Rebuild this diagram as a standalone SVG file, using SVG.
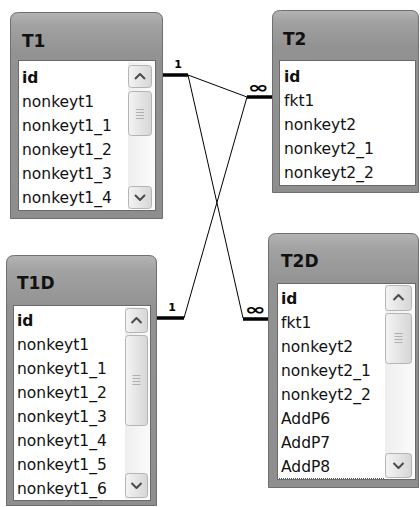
<svg xmlns="http://www.w3.org/2000/svg" width="420" height="507" viewBox="0 0 420 507">
  <defs>
    <linearGradient id="frameGrad" x1="0" y1="0" x2="0" y2="1" gradientUnits="objectBoundingBox">
      <stop offset="0" stop-color="#b4b4b4"/>
      <stop offset="0.06" stop-color="#a2a2a2"/>
      <stop offset="0.2" stop-color="#929292"/>
      <stop offset="1" stop-color="#8e8e8e"/>
    </linearGradient>
    <linearGradient id="btnGrad" x1="0" y1="0" x2="1" y2="0">
      <stop offset="0" stop-color="#f4f4f4"/>
      <stop offset="1" stop-color="#d6d6d6"/>
    </linearGradient>
    <linearGradient id="trackGrad" x1="0" y1="0" x2="1" y2="0">
      <stop offset="0" stop-color="#eeeeee"/>
      <stop offset="1" stop-color="#fbfbfb"/>
    </linearGradient>
  </defs>
  <style>
    .frame { fill: url(#frameGrad); stroke: #6f6f6f; stroke-width: 1; }
    .list { fill: #ffffff; stroke: #6a6a6a; stroke-width: 1; }
    .title { font-family: "DejaVu Sans", Verdana, sans-serif; font-size: 17px; font-weight: bold; fill: #111111; }
    .row { font-family: "DejaVu Sans", Verdana, sans-serif; font-size: 15.5px; fill: #111111; }
    .key { font-weight: bold; }
    .track { fill: url(#trackGrad); }
    .btn { fill: url(#btnGrad); stroke: #b4b4b4; stroke-width: 1; }
    .chev { fill: none; stroke: #4a4a4a; stroke-width: 2; stroke-linejoin: round; }
    .grip { stroke: #b0b0b0; stroke-width: 1; }
    .link { stroke: #000000; stroke-width: 1; fill: none; }
    .stub { stroke: #000000; stroke-width: 3.5; }
    .card { font-family: "DejaVu Sans", Verdana, sans-serif; font-weight: bold; fill: #000000; text-anchor: middle; }
    .focus { stroke: #555555; stroke-width: 1; stroke-dasharray: 1 1; }
  </style>

  <!-- relationship lines -->
  <g id="connectors">
    <line class="link" x1="188" y1="75" x2="247" y2="97"/>
    <line class="link" x1="188" y1="75" x2="243" y2="318"/>
    <line class="link" x1="247" y1="97" x2="184" y2="318"/>
    <line class="stub" x1="163" y1="75" x2="188" y2="75"/>
    <line class="stub" x1="247" y1="97" x2="272" y2="97"/>
    <line class="stub" x1="157" y1="318" x2="184" y2="318"/>
    <line class="stub" x1="243" y1="319" x2="268" y2="319"/>
    <text class="card" x="178" y="68" font-size="11">1</text>
    <text class="card" x="172" y="311" font-size="11">1</text>
    <text class="card" x="258" y="93" font-size="16" textLength="21" lengthAdjust="spacingAndGlyphs">∞</text>
    <text class="card" x="255" y="315" font-size="16" textLength="21" lengthAdjust="spacingAndGlyphs">∞</text>
  </g>

  <!-- table T1 -->
  <g id="T1">
    <path class="frame" d="M10.5,218.5 V20 Q10.5,12.5 18.5,12.5 H155 Q162.5,12.5 162.5,20 V218.5 Z"/>
    <text class="title" x="22" y="47">T1</text>
    <rect class="list" x="18.5" y="60.5" width="137" height="150"/>
    <rect class="track" x="128" y="62" width="26" height="147"/>
    <rect class="btn" x="128.5" y="65.5" width="23" height="22" rx="3"/>
    <polyline class="chev" points="135,79 140,74 145,79"/>
    <rect class="btn" x="128.5" y="91.5" width="23" height="44" rx="3"/>
    <line class="grip" x1="136" y1="109.5" x2="144" y2="109.5"/>
    <line class="grip" x1="136" y1="112.5" x2="144" y2="112.5"/>
    <line class="grip" x1="136" y1="115.5" x2="144" y2="115.5"/>
    <line class="grip" x1="136" y1="118.5" x2="144" y2="118.5"/>
    <rect class="btn" x="128.5" y="186.5" width="23" height="22" rx="3"/>
    <polyline class="chev" points="135,195 140,200 145,195"/>
    <text class="row key" x="22" y="83">id</text>
    <text class="row" x="22" y="107">nonkeyt1</text>
    <text class="row" x="22" y="131">nonkeyt1_1</text>
    <text class="row" x="22" y="155">nonkeyt1_2</text>
    <text class="row" x="22" y="179">nonkeyt1_3</text>
    <text class="row" x="22" y="203">nonkeyt1_4</text>
  </g>

  <!-- table T2 -->
  <g id="T2">
    <path class="frame" d="M272.5,192.5 V18 Q272.5,10.5 280.5,10.5 H411 Q418.5,10.5 418.5,18 V192.5 Z"/>
    <text class="title" x="283" y="45">T2</text>
    <rect class="list" x="279.5" y="60.5" width="136" height="125"/>
    <text class="row key" x="284" y="82">id</text>
    <text class="row" x="284" y="106">fkt1</text>
    <text class="row" x="284" y="130">nonkeyt2</text>
    <text class="row" x="284" y="154">nonkeyt2_1</text>
    <text class="row" x="284" y="178">nonkeyt2_2</text>
  </g>

  <!-- table T1D -->
  <g id="T1D">
    <path class="frame" d="M6.5,505.5 V263 Q6.5,255.5 14.5,255.5 H149 Q156.5,255.5 156.5,263 V505.5 Z"/>
    <text class="title" x="17" y="289">T1D</text>
    <rect class="list" x="13.5" y="305.5" width="137" height="195"/>
    <rect class="track" x="125" y="307" width="25" height="192"/>
    <rect class="btn" x="125.5" y="308.5" width="22" height="24" rx="3"/>
    <polyline class="chev" points="131.5,323 136.5,318 141.5,323"/>
    <rect class="btn" x="125.5" y="335.5" width="22" height="90" rx="3"/>
    <line class="grip" x1="132.5" y1="375.5" x2="140.5" y2="375.5"/>
    <line class="grip" x1="132.5" y1="378.5" x2="140.5" y2="378.5"/>
    <line class="grip" x1="132.5" y1="381.5" x2="140.5" y2="381.5"/>
    <line class="grip" x1="132.5" y1="384.5" x2="140.5" y2="384.5"/>
    <rect class="btn" x="125.5" y="473.5" width="22" height="24" rx="3"/>
    <polyline class="chev" points="131.5,483 136.5,488 141.5,483"/>
    <text class="row key" x="17" y="326">id</text>
    <text class="row" x="17" y="350">nonkeyt1</text>
    <text class="row" x="17" y="374">nonkeyt1_1</text>
    <text class="row" x="17" y="398">nonkeyt1_2</text>
    <text class="row" x="17" y="422">nonkeyt1_3</text>
    <text class="row" x="17" y="446">nonkeyt1_4</text>
    <text class="row" x="17" y="470">nonkeyt1_5</text>
    <text class="row" x="17" y="494">nonkeyt1_6</text>
  </g>

  <!-- table T2D -->
  <g id="T2D">
    <path class="frame" d="M268.5,487.5 V241 Q268.5,233.5 276.5,233.5 H411 Q418.5,233.5 418.5,241 V487.5 Z"/>
    <text class="title" x="281" y="267">T2D</text>
    <rect class="list" x="277.5" y="283.5" width="138" height="196"/>
    <rect class="track" x="385" y="285" width="29" height="193"/>
    <rect class="btn" x="385.5" y="285.5" width="26" height="25" rx="3"/>
    <polyline class="chev" points="393.5,300 398.5,295 403.5,300"/>
    <rect class="btn" x="385.5" y="313.5" width="26" height="50" rx="3"/>
    <line class="grip" x1="394.5" y1="333.5" x2="402.5" y2="333.5"/>
    <line class="grip" x1="394.5" y1="336.5" x2="402.5" y2="336.5"/>
    <line class="grip" x1="394.5" y1="339.5" x2="402.5" y2="339.5"/>
    <line class="grip" x1="394.5" y1="342.5" x2="402.5" y2="342.5"/>
    <rect class="btn" x="385.5" y="453.5" width="26" height="24" rx="3"/>
    <polyline class="chev" points="393.5,463 398.5,468 403.5,463"/>
    <text class="row key" x="281" y="304">id</text>
    <text class="row" x="281" y="328">fkt1</text>
    <text class="row" x="281" y="352">nonkeyt2</text>
    <text class="row" x="281" y="376">nonkeyt2_1</text>
    <text class="row" x="281" y="400">nonkeyt2_2</text>
    <text class="row" x="281" y="424">AddP6</text>
    <text class="row" x="281" y="448">AddP7</text>
    <text class="row" x="281" y="472">AddP8</text>
    <line class="focus" x1="279" y1="478.5" x2="384" y2="478.5"/>
  </g>
</svg>
